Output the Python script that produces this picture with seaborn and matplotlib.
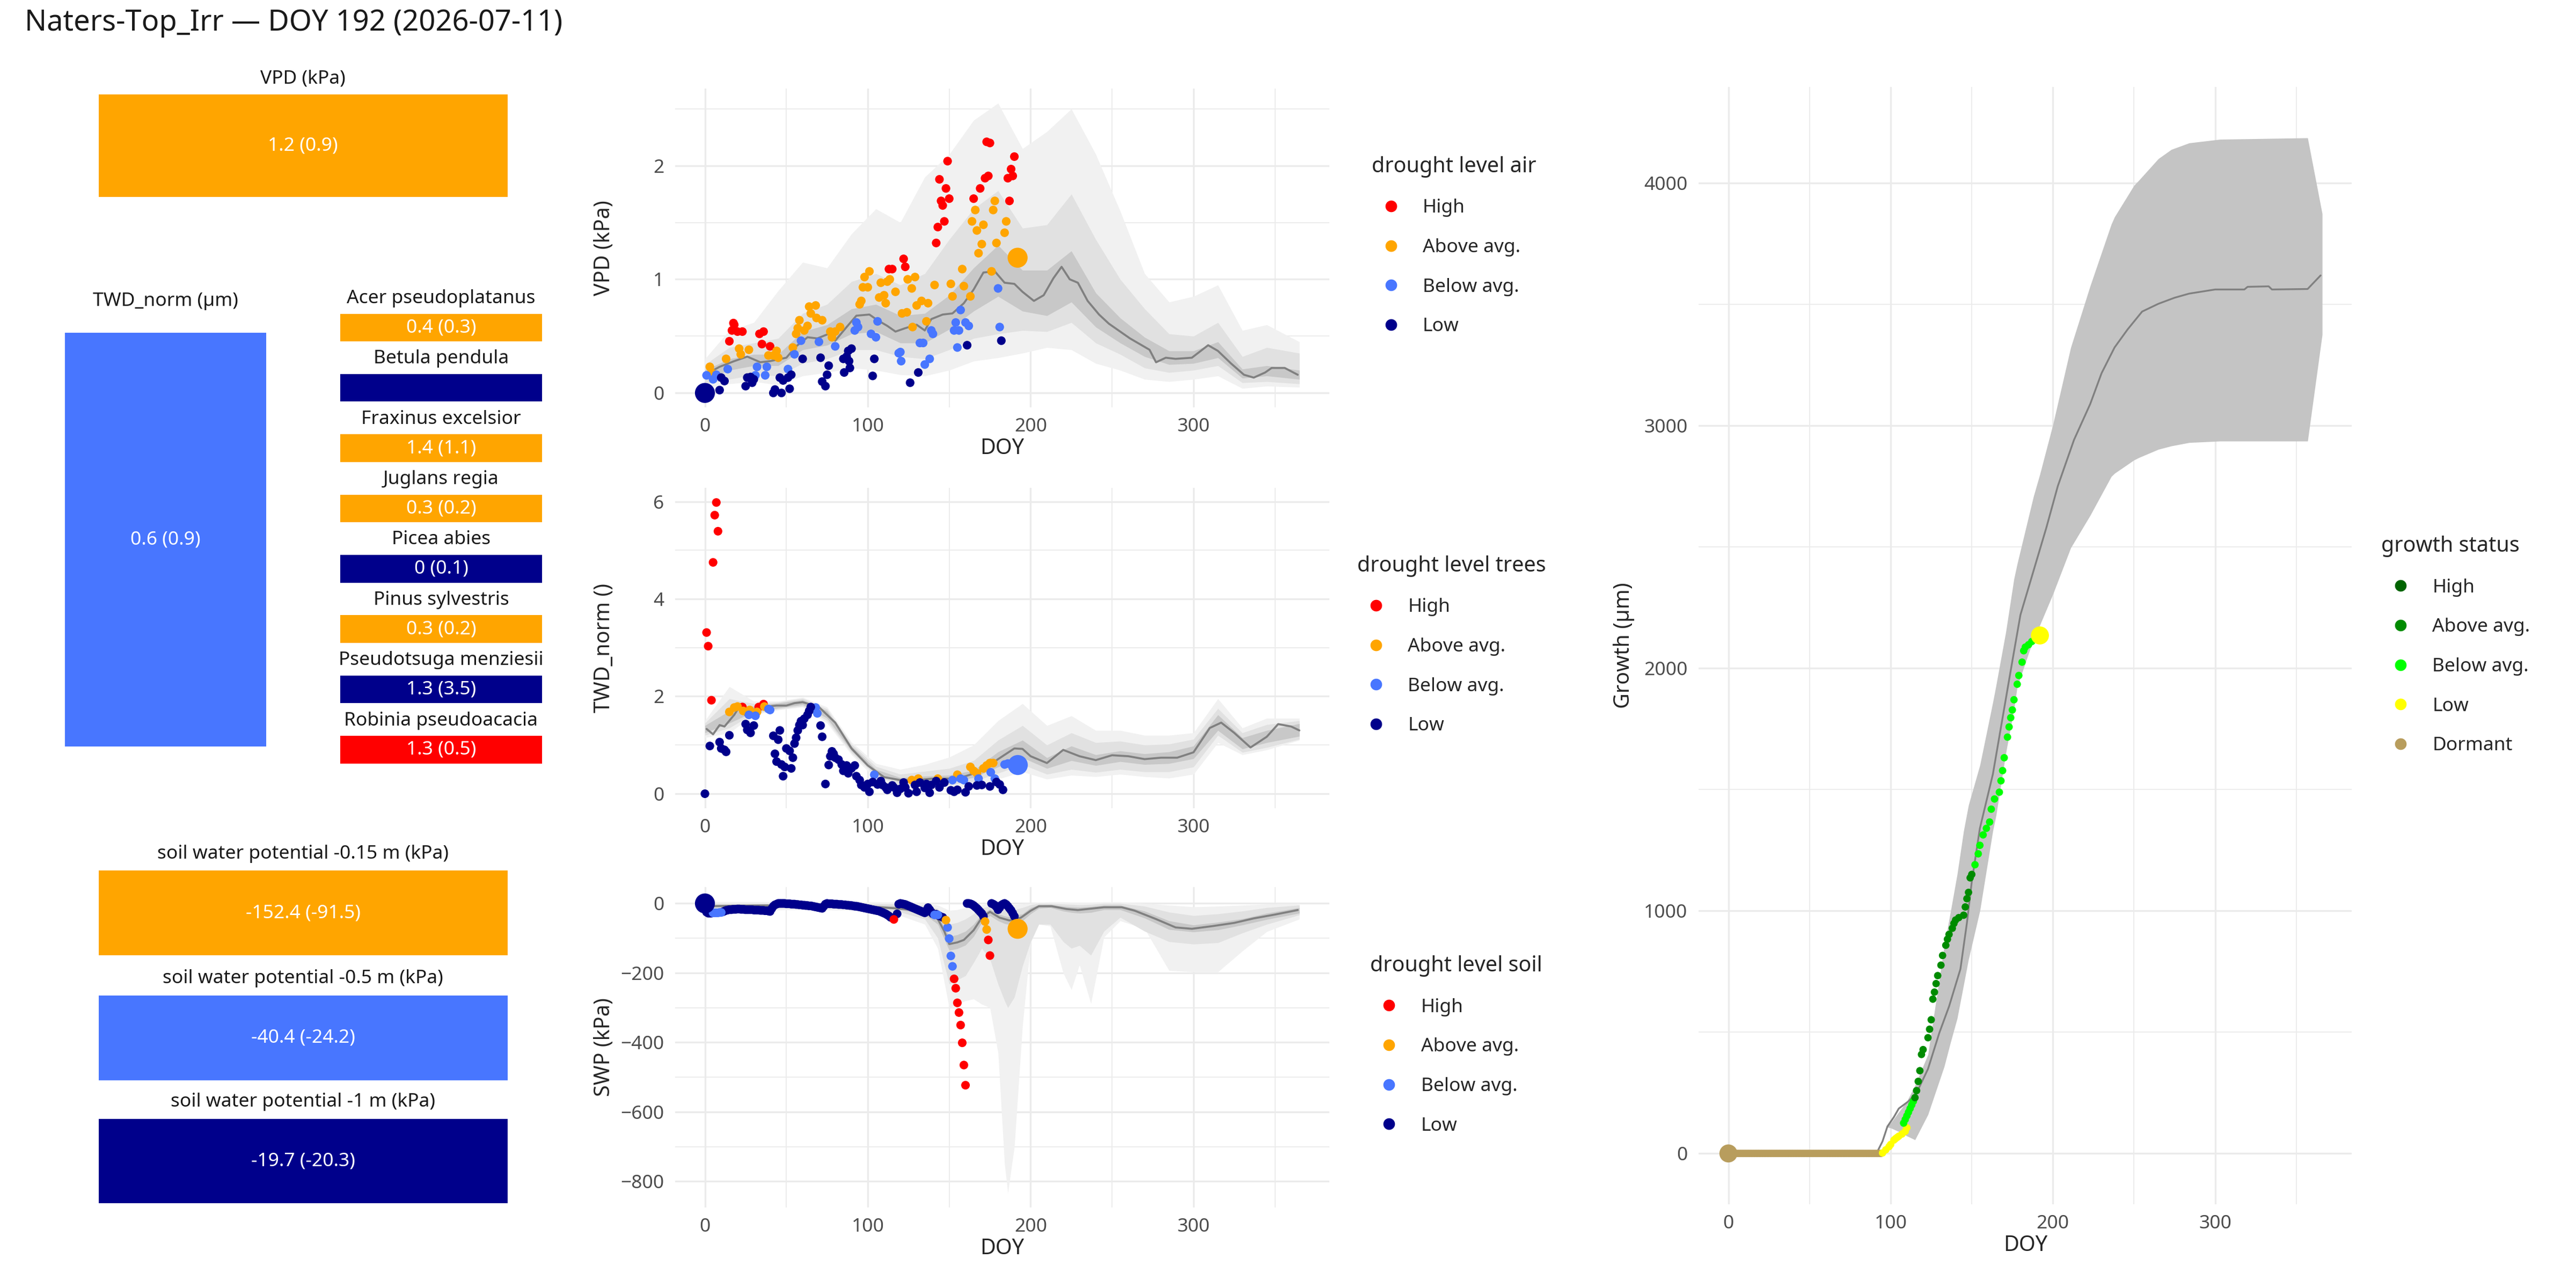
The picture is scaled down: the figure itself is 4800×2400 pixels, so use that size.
import matplotlib
matplotlib.use('Agg')
import numpy as np
import pandas as pd
import matplotlib.pyplot as plt
import seaborn as sns
from matplotlib.ticker import MultipleLocator

sns.set_theme(style='white')
plt.rcParams['font.family'] = ['Noto Sans', 'DejaVu Sans']

# ---- colours ----
LEVELS = ['High', 'Above avg.', 'Below avg.', 'Low']
LEVEL_COLORS = {'High': '#FF0000', 'Above avg.': '#FFA500',
                'Below avg.': '#4876FF', 'Low': '#00008B'}
GROWTH_LEVELS = ['High', 'Above avg.', 'Below avg.', 'Low', 'Dormant']
GROWTH_COLORS = {'High': '#006400', 'Above avg.': '#008B00', 'Below avg.': '#00FF00',
                 'Low': '#FFFF00', 'Dormant': '#B89D5D'}
BAND_COLORS = ['#F1F1F1', '#E1E1E1', '#C8C8C8']
LINE_GREY = '#808080'

TITLE = 'Naters-Top_Irr \u2014 DOY 192 (2026-07-11)'

# ---- left tiles ----
VPD_NOW, VPD_REF, VPD_LEVEL = 1.2, 0.9, 'Above avg.'
TWD_NOW, TWD_REF, TWD_LEVEL = 0.6, 0.9, 'Below avg.'
SPECIES = ['Acer pseudoplatanus', 'Betula pendula', 'Fraxinus excelsior', 'Juglans regia',
           'Picea abies', 'Pinus sylvestris', 'Pseudotsuga menziesii', 'Robinia pseudoacacia']
SPECIES_NOW = [0.4, None, 1.4, 0.3, 0, 0.3, 1.3, 1.3]
SPECIES_REF = [0.3, None, 1.1, 0.2, 0.1, 0.2, 3.5, 0.5]
SPECIES_LEVEL = ['Above avg.', 'Low', 'Above avg.', 'Above avg.', 'Low', 'Above avg.', 'Low', 'High']
SOIL_DEPTH = ['-0.15', '-0.5', '-1']
SOIL_NOW = [-152.4, -40.4, -19.7]
SOIL_REF = [-91.5, -24.2, -20.3]
SOIL_LEVEL = ['Above avg.', 'Below avg.', 'Low']

# ---- VPD panel ----
BAND_DOY = [0, 15, 30, 45, 60, 75, 90, 105, 120, 135, 150, 165, 180, 195, 210, 225, 240,
            255, 270, 285, 300, 315, 330, 345, 365]
VPD_OUT_LO = [0.04, 0.08, 0.10, 0.07, 0.15, 0.18, 0.22, 0.20, 0.16, 0.15, 0.20, 0.28, 0.31,
              0.35, 0.40, 0.38, 0.26, 0.20, 0.12, 0.10, 0.12, 0.15, 0.04, 0.06, 0.05]
VPD_OUT_HI = [0.30, 0.55, 0.62, 0.90, 1.15, 1.10, 1.40, 1.62, 1.50, 1.90, 2.10, 2.40, 2.55,
              2.15, 2.30, 2.50, 2.10, 1.60, 1.05, 0.80, 0.85, 0.95, 0.55, 0.60, 0.45]
VPD_MID_LO = [0.08, 0.12, 0.16, 0.15, 0.26, 0.30, 0.38, 0.38, 0.32, 0.30, 0.38, 0.48, 0.52,
              0.55, 0.54, 0.62, 0.44, 0.34, 0.22, 0.18, 0.20, 0.24, 0.09, 0.10, 0.08]
VPD_MID_HI = [0.25, 0.40, 0.44, 0.48, 0.70, 0.78, 0.98, 1.05, 0.95, 1.05, 1.35, 1.62, 1.78,
              1.45, 1.48, 1.75, 1.35, 1.00, 0.74, 0.52, 0.50, 0.62, 0.32, 0.40, 0.35]
VPD_IN_LO = [0.12, 0.20, 0.24, 0.24, 0.38, 0.42, 0.52, 0.54, 0.44, 0.44, 0.56, 0.72, 0.85,
             0.72, 0.68, 0.80, 0.58, 0.44, 0.32, 0.25, 0.26, 0.31, 0.13, 0.15, 0.12]
VPD_IN_HI = [0.20, 0.30, 0.34, 0.34, 0.54, 0.60, 0.74, 0.78, 0.68, 0.70, 0.86, 1.10, 1.30,
             1.08, 1.08, 1.25, 0.88, 0.66, 0.49, 0.37, 0.37, 0.45, 0.21, 0.24, 0.20]
VPD_MED_DOY = [0, 9, 18, 26, 34, 40, 50, 56, 63, 69, 76, 80, 87, 93, 101, 106, 112, 117, 123,
               130, 135, 139, 146, 152, 159, 165, 171, 178, 184, 190, 195, 202, 208, 214, 219,
               224, 229, 235, 242, 248, 254, 261, 267, 273, 277, 283, 289, 299, 309, 315, 323,
               331, 337, 344, 348, 356, 364]
VPD_MED = [0.16, 0.23, 0.28, 0.32, 0.27, 0.28, 0.31, 0.41, 0.49, 0.48, 0.52, 0.46, 0.58, 0.68,
           0.69, 0.64, 0.59, 0.54, 0.57, 0.60, 0.55, 0.65, 0.69, 0.70, 0.79, 0.91, 1.06, 1.07,
           0.97, 0.96, 0.89, 0.81, 0.86, 1.01, 1.11, 1.00, 0.97, 0.81, 0.69, 0.61, 0.55, 0.48,
           0.43, 0.38, 0.27, 0.31, 0.30, 0.31, 0.42, 0.37, 0.26, 0.16, 0.135, 0.18, 0.22, 0.22,
           0.16]
VPD_HIGH = [(15, 0.455), (16.6, 0.55), (17.5, 0.615), (18, 0.60), (20, 0.54), (23, 0.54),
            (33.5, 0.52), (35, 0.43), (36, 0.54), (40, 0.41), (113, 1.09), (115, 1.09),
            (122, 1.18), (123, 1.11), (142, 1.32), (143, 1.46), (144, 1.88), (145, 1.69),
            (146, 1.65), (147, 1.51), (148, 1.80), (149, 2.04), (150, 1.71), (165, 1.71),
            (169, 1.80), (172, 1.89), (173, 2.21), (174, 1.91), (175, 2.20), (186, 1.89),
            (187, 1.69), (188, 1.97), (189, 1.91), (190, 2.08)]
VPD_ABOVE = [(3, 0.23), (4, 0.18), (13, 0.30), (21, 0.39), (22, 0.34), (27, 0.38), (39, 0.33),
             (42, 0.33), (44, 0.37), (45, 0.31), (54, 0.40), (56, 0.52), (57, 0.57), (58, 0.64),
             (61, 0.55), (63, 0.59), (64, 0.76), (65, 0.70), (68, 0.77), (68.5, 0.66), (72, 0.64),
             (77, 0.54), (78, 0.49), (80, 0.54), (83, 0.58), (95, 0.78), (96, 0.81), (97, 0.93),
             (98, 1.02), (100, 0.93), (101, 1.07), (107, 0.84), (108, 0.97), (110, 0.86),
             (111, 0.79), (112, 0.98), (113.5, 1.00), (117, 0.89), (121, 0.70), (124, 0.71),
             (124.5, 1.00), (127, 0.92), (127.5, 0.58), (129, 1.02), (130, 0.77), (133, 0.81),
             (136, 0.63), (137, 0.79), (141, 0.95), (151, 0.96), (152, 0.85), (158, 1.09),
             (159, 0.94), (163, 0.85), (164, 1.51), (166, 1.61), (167, 1.43), (168, 1.23),
             (170, 1.31), (171, 1.48), (176, 1.07), (177, 1.61), (178, 1.69), (179, 1.32),
             (184, 1.41), (185, 1.51)]
VPD_BELOW = [(1, 0.155), (5, 0.12), (7, 0.16), (14, 0.21), (31, 0.155), (32, 0.23), (37, 0.155),
             (38, 0.23), (51, 0.21), (55, 0.34), (59, 0.46), (70, 0.45), (80, 0.41), (92, 0.55),
             (93, 0.62), (94, 0.58), (102, 0.52), (105, 0.49), (106, 0.63), (119, 0.35),
             (120, 0.36), (120.5, 0.28), (132, 0.44), (134, 0.44), (135, 0.25), (138, 0.30),
             (139, 0.55), (140, 0.52), (153, 0.55), (154, 0.62), (155, 0.40), (156, 0.55),
             (157, 0.73), (160, 0.62), (162, 0.59), (180, 0.92), (181, 0.58)]
VPD_LOW = [(9, 0.025), (10, 0.135), (12, 0.105), (25, 0.06), (26, 0.135), (28, 0.14), (29, 0.09),
           (30, 0.12), (42, 0.0), (43, 0.03), (46, 0.135), (47, 0.0), (48, 0.11), (51, 0.135),
           (52, 0.037), (53, 0.16), (60, 0.30), (71, 0.31), (72, 0.10), (74, 0.06), (75, 0.16),
           (76, 0.24), (85, 0.30), (85.5, 0.18), (87, 0.32), (88, 0.37), (88.5, 0.28), (89, 0.22),
           (90, 0.39), (103, 0.15), (104, 0.30), (126, 0.09), (131, 0.18), (161, 0.42), (182, 0.46)]
VPD_BIG = [(0, 0.0, 'Low'), (192, 1.19, 'Above avg.')]

# ---- TWD panel ----
TWD_OUT_LO = [1.15, 1.25, 1.62, 1.72, 1.78, 1.45, 0.80, 0.30, 0.12, 0.10, 0.10, 0.15, 0.30,
              0.45, 0.30, 0.38, 0.35, 0.40, 0.35, 0.32, 0.40, 1.05, 0.80, 0.90, 1.10]
TWD_OUT_HI = [1.50, 2.20, 1.90, 1.90, 1.98, 1.78, 1.06, 0.62, 0.50, 0.60, 0.75, 1.00, 1.50,
              1.85, 1.40, 1.60, 1.30, 1.30, 1.20, 1.20, 1.25, 1.95, 1.35, 1.55, 1.55]
TWD_MID_LO = [1.20, 1.35, 1.65, 1.74, 1.80, 1.50, 0.84, 0.36, 0.18, 0.18, 0.18, 0.25, 0.42,
              0.60, 0.40, 0.50, 0.44, 0.50, 0.45, 0.45, 0.55, 1.20, 0.85, 0.95, 1.12]
TWD_MID_HI = [1.45, 1.95, 1.85, 1.88, 1.96, 1.74, 1.02, 0.56, 0.40, 0.46, 0.52, 0.68, 1.10,
              1.40, 1.00, 1.25, 1.05, 1.08, 1.00, 1.02, 1.12, 1.75, 1.25, 1.42, 1.50]
TWD_IN_LO = [1.25, 1.45, 1.68, 1.76, 1.83, 1.55, 0.88, 0.40, 0.24, 0.25, 0.25, 0.33, 0.55,
             0.74, 0.52, 0.68, 0.58, 0.66, 0.60, 0.62, 0.72, 1.30, 0.92, 1.05, 1.18]
TWD_IN_HI = [1.40, 1.70, 1.80, 1.86, 1.93, 1.70, 0.98, 0.50, 0.33, 0.36, 0.38, 0.48, 0.86,
             1.10, 0.74, 0.98, 0.80, 0.88, 0.82, 0.86, 0.98, 1.62, 1.15, 1.30, 1.44]
TWD_MED_DOY = [1, 5, 9, 12, 18, 21, 25, 28, 34, 44, 50, 55, 60, 70, 80, 90, 100, 110, 120, 130,
               140, 150, 160, 170, 180, 190, 195, 200, 210, 220, 230, 240, 250, 260, 270, 280,
               290, 300, 310, 317, 325, 335, 345, 352, 360, 365]
TWD_MED = [1.33, 1.22, 1.41, 1.38, 1.62, 1.78, 1.60, 1.70, 1.78, 1.81, 1.81, 1.86, 1.88, 1.78,
           1.46, 0.93, 0.58, 0.34, 0.28, 0.28, 0.31, 0.31, 0.36, 0.47, 0.71, 0.93, 0.92, 0.77,
           0.63, 0.90, 0.77, 0.69, 0.79, 0.77, 0.71, 0.74, 0.74, 0.85, 1.35, 1.46, 1.25, 0.95,
           1.17, 1.43, 1.38, 1.30]
TWD_HIGH = [(1, 3.31), (2, 3.03), (4, 1.92), (5, 4.75), (6, 5.72), (7, 5.98), (8, 5.39),
            (23, 1.78), (33, 1.78), (36, 1.84)]
TWD_ABOVE = [(15, 1.68), (18, 1.77), (20, 1.79), (23.5, 1.70), (27.5, 1.72), (32, 1.68),
             (36.5, 1.79), (127, 0.28), (131, 0.31), (143, 0.31), (155, 0.39), (163, 0.55),
             (165, 0.47), (167, 0.42), (171, 0.52), (173, 0.58), (175, 0.63), (177, 0.63)]
TWD_BELOW = [(27, 1.62), (31, 1.60), (39, 1.74), (40, 1.72), (68, 1.77), (69, 1.65), (104, 0.39),
             (152, 0.28), (157, 0.31), (159, 0.28), (168, 0.31), (175.5, 0.44), (178, 0.31),
             (184, 0.60), (186, 0.62)]
TWD_LOW = [(0, 0.0), (3, 0.98), (9, 1.06), (10, 0.93), (12, 0.90), (13, 0.86), (15, 1.20),
           (25, 1.43), (26, 1.31), (28, 1.25), (30, 1.40), (42, 1.19), (43, 0.82), (44, 0.66),
           (45, 1.11), (46, 1.30), (47, 0.60), (48, 0.36), (49, 0.55), (50, 0.93), (52, 0.88),
           (53, 0.52), (54, 0.74), (55, 1.03), (56, 1.15), (57, 1.30), (58, 1.41), (59, 1.49),
           (60, 1.41), (61, 1.54), (63, 1.62), (64, 1.70), (65, 1.78), (71, 1.40), (72, 1.17),
           (74, 0.20), (76, 0.59), (77, 0.77), (78, 0.87), (79, 0.82), (80, 0.74), (82, 0.70),
           (84, 0.60), (85, 0.47), (87, 0.58), (88, 0.42), (90, 0.52), (92, 0.58), (93, 0.36),
           (95, 0.28), (96, 0.18), (98, 0.13), (100, 0.20), (101, 0.04), (103, 0.24), (106, 0.19),
           (108, 0.26), (109, 0.18), (111, 0.13), (112, 0.08), (115, 0.17), (116, 0.13),
           (118, 0.02), (120, 0.10), (122, 0.23), (123, 0.13), (125, 0.01), (129, 0.18),
           (130, 0.04), (132, 0.23), (135, 0.12), (136, 0.20), (138, 0.02), (139, 0.18),
           (142, 0.26), (144, 0.13), (147, 0.23), (151, 0.07), (153, 0.04), (155, 0.08),
           (160, 0.03), (162, 0.15), (167, 0.17), (170, 0.18), (175, 0.15), (179, 0.24),
           (181, 0.19), (183, 0.08)]
TWD_BIG = [(192, 0.6, 'Below avg.')]

# ---- SWP panel ----
SWP_BAND_DOY = [0, 30, 60, 90, 120, 135, 143, 150, 155, 160, 165, 170, 175, 180, 184, 186, 190,
                195, 200, 205, 212, 220, 225, 230, 237, 245, 255, 270, 285, 300, 315, 330, 345, 365]
SWP_OUT_LO = [-25, -20, -18, -20, -35, -60, -130, -300, -290, -280, -275, -290, -300, -430, -750,
              -833, -700, -352, -113, -60, -65, -200, -248, -177, -288, -97, -50, -73, -193, -197,
              -197, -137, -81, -45]
SWP_OUT_HI = [5, 5, 5, 5, 3, 0, -5, -20, -18, -12, -8, -4, 0, -4, -5, -6, -4, -2, 0, 3, 4, 4, 3,
              3, 3, 4, 4, 0, -5, -10, -8, -5, -2, 0]
SWP_MID_LO = [-18, -14, -12, -14, -25, -45, -100, -232, -220, -208, -170, -129, -160, -232, -280,
              -300, -270, -180, -110, -60, -60, -110, -129, -121, -149, -80, -40, -80, -110, -117,
              -113, -85, -60, -33]
SWP_MID_HI = [0, 0, 0, 0, -2, -6, -15, -60, -55, -45, -30, -15, -6, -15, -18, -20, -18, -12, -4,
              0, 0, -2, -3, -4, -3, 0, 0, -8, -25, -35, -30, -22, -12, -5]
SWP_IN_LO = [-12, -10, -9, -10, -18, -32, -60, -135, -130, -120, -95, -55, -35, -50, -58, -60,
             -55, -50, -30, -14, -12, -22, -26, -28, -26, -18, -18, -42, -75, -82, -76, -62, -46,
             -28]
SWP_IN_HI = [-4, -3, -2, -3, -8, -16, -30, -95, -90, -80, -60, -30, -16, -30, -36, -38, -35, -30,
             -12, -4, -3, -8, -10, -11, -9, -5, -5, -22, -50, -62, -54, -44, -28, -12]
SWP_MED_DOY = [0, 30, 60, 90, 104, 117, 130, 136, 143, 147, 150, 155, 159, 165, 170, 175, 181,
               187, 194, 200, 205, 213, 222, 229, 235, 245, 256, 264, 277, 289, 299, 312, 325,
               337, 350, 364]
SWP_MED = [-8, -6, -5, -6, -10, -14, -20, -25, -45, -80, -117, -112, -105, -77, -41, -24, -41,
           -49, -41, -21, -8, -8, -16, -19, -16, -11, -11, -21, -45, -69, -73, -65, -56, -43,
           -32, -19]
SWP_LOW_DOY = ([1, 2, 3, 4] + list(range(11, 115)) + [118] + list(range(119, 141))
               + [142, 144, 146] + list(range(161, 172)) + list(range(176, 191)))
SWP_LOW_VAL = [-25, -28, -28, -28,
               -24, -22, -20, -19, -18, -18, -17, -17, -17, -16,
               -16, -17, -17, -17, -18, -18, -18, -18, -18, -19,
               -19, -19, -19, -20, -20, -20, -21, -21, -22, -23,
               -15, -8, -4, -2, 0, 0, 0, 0, 0, -1,
               -1, -1, -2, -2, -2, -3, -3, -4, -4, -5,
               -5, -6, -6, -7, -7, -8, -9, -10, -11, -12,
               -13, -14, -8, -2, 0, -1, -1, -1, -2, -2,
               -2, -3, -3, -3, -4, -4, -5, -5, -6, -6,
               -7, -8, -8, -9, -10, -11, -12, -13, -14, -15,
               -16, -17, -18, -19, -20, -21, -22, -24, -26, -28,
               -30, -33, -36, -40,
               -30,
               -2, 0, -1, -2, -3, -5, -7, -9, -11, -13,
               -15, -17, -19, -21, -23, -25, -27, -20, -12, -18, -25, -30,
               -31, -36, -40,
               0, 0, -1, -3, -6, -10, -14, -19, -24, -29, -37,
               0, -2, -5, -10, -18, -12, -5, -2, 0, -3, -8, -14, -20, -28, -37]
SWP_BELOW = [(5, -27), (6, -27), (7, -27), (8, -27), (9, -26), (10, -26), (141, -33), (143, -33),
             (149, -69), (150, -101), (151, -151), (152, -181)]
SWP_ABOVE = [(148, -48), (172, -52), (173, -75)]
SWP_HIGH = [(116, -46), (153, -217), (154, -244), (155, -286), (156, -314), (157, -350),
            (158, -401), (159, -465), (160, -523), (174, -105), (175, -150)]
SWP_BIG = [(0, 0, 'Low'), (192, -73, 'Above avg.')]

# ---- growth panel ----
GROWTH_BAND_DOY = [98, 100, 105, 110, 115, 123, 133, 137, 141, 145, 148, 155, 163, 165, 171, 176,
                   178, 188, 192, 200, 211, 223, 236, 238, 250, 253, 265, 273, 284, 303, 357, 366]
GROWTH_HI = [115, 125, 170, 215, 280, 408, 853, 1000, 1150, 1330, 1436, 1600, 1860, 1930, 2150,
             2368, 2430, 2707, 2800, 3004, 3322, 3576, 3830, 3860, 3990, 4011, 4100, 4138, 4165,
             4180, 4186, 3873]
GROWTH_LO = [108, 105, 90, 72, 56, 160, 358, 460, 556, 695, 800, 1000, 1330, 1394, 1650, 1830,
             1923, 2120, 2178, 2305, 2496, 2630, 2790, 2803, 2858, 2868, 2902, 2916, 2930, 2936,
             2936, 3375]
GROWTH_MED_DOY = [0, 88, 92, 95, 98, 102, 105, 111, 116, 123, 130, 136, 143, 147, 150, 155, 163,
                  169, 175, 180, 188, 196, 203, 213, 223, 230, 238, 246, 255, 265, 275, 284, 300,
                  318, 320, 333, 335, 357, 365]
GROWTH_MED = [0, 0, 10, 50, 111, 150, 185, 215, 250, 348, 497, 606, 760, 950, 1120, 1340, 1563,
              1796, 2029, 2220, 2400, 2580, 2750, 2941, 3089, 3216, 3322, 3396, 3470, 3502, 3527,
              3544, 3561, 3561, 3572, 3574, 3561, 3563, 3619]
GROWTH_DORMANT_DOY = list(range(1, 95))
GROWTH_LOW = [(95, 2), (97, 15), (99, 28), (100, 37), (102, 55), (103, 61), (104, 66), (105, 71),
              (107, 80), (109, 91), (110, 106)]
GROWTH_BELOW = [(108, 125), (109, 140), (110, 155), (111, 170), (112, 185), (113, 200),
                (114, 215), (152, 1190), (154, 1235), (155, 1270), (157, 1313), (159, 1340),
                (161, 1366), (162, 1419), (164, 1461), (167, 1489), (168, 1536), (169, 1578),
                (170, 1631), (172, 1716), (173, 1758), (174, 1796), (175, 1828), (176, 1870),
                (178, 1934), (179, 1970), (181, 2025), (182, 2072), (183, 2087), (185, 2097),
                (187, 2110)]
GROWTH_ABOVE = [(115, 230), (116, 259), (117, 297), (118, 341), (119, 408), (120, 428),
                (123, 477), (124, 512), (125, 551), (126, 636), (127, 665), (128, 700),
                (129, 733), (131, 776), (132, 816), (134, 858), (135, 883), (136, 903),
                (138, 928), (139, 948), (140, 962), (142, 972), (145, 982), (146, 1016),
                (147, 1050), (148, 1076), (149, 1136), (150, 1150)]
GROWTH_BIG = [(0, 0, 'Dormant'), (192, 2135, 'Low')]

# layout helpers (reference pixel grid 1568 x 784)
W, H = 1568, 784


def frect(x0, y0, x1, y1):
    return [x0 / W, 1 - y1 / H, (x1 - x0) / W, (y1 - y0) / H]


def points_frame(groups):
    rows = []
    for level, pts in groups:
        for d, v in pts:
            rows.append((d, v, level))
    return pd.DataFrame(rows, columns=['doy', 'value', 'level'])


def big_frame(pts):
    return pd.DataFrame(pts, columns=['doy', 'value', 'level'])


def fmt(v):
    return f'{v:g}'


def draw_tile(fig, rect, color, label, title, pad):
    ax = fig.add_axes(frect(*rect))
    ax.bar([0], [1], width=1, color=color, linewidth=0)
    ax.set_xlim(-0.5, 0.5)
    ax.set_ylim(0, 1)
    ax.axis('off')
    ax.text(0, 0.5, label, color='white', ha='center', va='center', fontsize=8.5)
    ax.set_title(title, fontsize=8.5, pad=pad, color='#1A1A1A')


def style_axes(ax, ymajor, yminor):
    ax.xaxis.set_major_locator(MultipleLocator(100))
    ax.xaxis.set_minor_locator(MultipleLocator(50))
    ax.yaxis.set_major_locator(MultipleLocator(ymajor))
    ax.yaxis.set_minor_locator(MultipleLocator(yminor))
    ax.set_axisbelow(True)
    ax.grid(which='major', color='#EBEBEB', lw=0.8)
    ax.grid(which='minor', color='#EBEBEB', lw=0.45)
    ax.tick_params(which='both', length=0, labelsize=8.5, labelcolor='#4D4D4D')
    ax.tick_params(axis='x', pad=4.5)
    ax.tick_params(axis='y', pad=5)
    for s in ax.spines.values():
        s.set_visible(False)
    ax.margins(0.05)


def place_legend(ax, fig, anchor, title, marker_size=5.2):
    sns.move_legend(ax, 'upper left', bbox_to_anchor=anchor, bbox_transform=fig.transFigure,
                    frameon=False, title=title, fontsize=8.5, title_fontsize=9.5,
                    alignment='left', handlelength=2, handletextpad=0.68,
                    labelspacing=1.12, borderpad=0, borderaxespad=0)
    for h in ax.get_legend().legend_handles:
        if hasattr(h, 'set_markersize'):
            h.set_markersize(marker_size)


def drought_panel(fig, rect, bands, med_doy, med, pts, big, ylabel, ymajor, yminor,
                  legend_title, legend_anchor):
    ax = fig.add_axes(frect(*rect))
    band_doy, o_lo, o_hi, m_lo, m_hi, i_lo, i_hi = bands
    ax.fill_between(band_doy, o_lo, o_hi, color=BAND_COLORS[0], lw=0, zorder=1)
    ax.fill_between(band_doy, m_lo, m_hi, color=BAND_COLORS[1], lw=0, zorder=1)
    ax.fill_between(band_doy, i_lo, i_hi, color=BAND_COLORS[2], lw=0, zorder=1)
    sns.lineplot(x=med_doy, y=med, ax=ax, color=LINE_GREY, linewidth=0.9, zorder=2)
    sns.scatterplot(data=pts, x='doy', y='value', hue='level', hue_order=LEVELS,
                    palette=LEVEL_COLORS, s=15, linewidth=0, ax=ax, zorder=3)
    sns.scatterplot(data=big, x='doy', y='value', hue='level', hue_order=LEVELS,
                    palette=LEVEL_COLORS, s=80, linewidth=0, legend=False, ax=ax, zorder=4)
    style_axes(ax, ymajor, yminor)
    ax.set_xlabel('DOY', fontsize=9.5, labelpad=1)
    ax.set_ylabel(ylabel, fontsize=9.5)
    ax.yaxis.set_label_coords(-0.092, 0.5)
    place_legend(ax, fig, legend_anchor, legend_title)
    return ax


fig = plt.figure(figsize=(16, 8), dpi=300)
fig.text(15 / W, 1 - 14 / H, TITLE, fontsize=13, ha='left', va='center', color='#1A1A1A')

# left column tiles
draw_tile(fig, (60, 57.5, 309, 120), LEVEL_COLORS[VPD_LEVEL],
          f'{fmt(VPD_NOW)} ({fmt(VPD_REF)})', 'VPD (kPa)', 5)
draw_tile(fig, (39.4, 202.6, 162, 454.5), LEVEL_COLORS[TWD_LEVEL],
          f'{fmt(TWD_NOW)} ({fmt(TWD_REF)})', 'TWD_norm (\u00b5m)', 12)
for i, name in enumerate(SPECIES):
    top = 191 + i * 36.7
    now, ref = SPECIES_NOW[i], SPECIES_REF[i]
    label = '' if now is None else f'{fmt(now)} ({fmt(ref)})'
    draw_tile(fig, (207, top, 330, top + 16.8), LEVEL_COLORS[SPECIES_LEVEL[i]], label, name, 4.7)
for i, depth in enumerate(SOIL_DEPTH):
    top = [530, 606, 681][i]
    draw_tile(fig, (60, top, 309, top + 51.5), LEVEL_COLORS[SOIL_LEVEL[i]],
              f'{fmt(SOIL_NOW[i])} ({fmt(SOIL_REF[i])})',
              f'soil water potential {depth} m (kPa)', 5.5)

# middle column
vpd_pts = points_frame([('High', VPD_HIGH), ('Above avg.', VPD_ABOVE),
                        ('Below avg.', VPD_BELOW), ('Low', VPD_LOW)])
drought_panel(fig, (411, 54, 809, 248),
              (BAND_DOY, VPD_OUT_LO, VPD_OUT_HI, VPD_MID_LO, VPD_MID_HI, VPD_IN_LO, VPD_IN_HI),
              VPD_MED_DOY, VPD_MED, vpd_pts, big_frame(VPD_BIG), 'VPD (kPa)', 1, 0.5,
              'drought level air', (835 / W, 1 - 95 / H))

twd_pts = points_frame([('High', TWD_HIGH), ('Above avg.', TWD_ABOVE),
                        ('Below avg.', TWD_BELOW), ('Low', TWD_LOW)])
drought_panel(fig, (411, 297, 809, 492),
              (BAND_DOY, TWD_OUT_LO, TWD_OUT_HI, TWD_MID_LO, TWD_MID_HI, TWD_IN_LO, TWD_IN_HI),
              TWD_MED_DOY, TWD_MED, twd_pts, big_frame(TWD_BIG), 'TWD_norm ()', 2, 1,
              'drought level trees', (826 / W, 1 - 338 / H))

swp_low = list(zip(SWP_LOW_DOY, SWP_LOW_VAL))
swp_pts = points_frame([('Low', swp_low), ('Below avg.', SWP_BELOW),
                        ('Above avg.', SWP_ABOVE), ('High', SWP_HIGH)])
drought_panel(fig, (411, 540, 809, 735),
              (SWP_BAND_DOY, SWP_OUT_LO, SWP_OUT_HI, SWP_MID_LO, SWP_MID_HI, SWP_IN_LO, SWP_IN_HI),
              SWP_MED_DOY, SWP_MED, swp_pts, big_frame(SWP_BIG), 'SWP (kPa)', 200, 100,
              'drought level soil', (834 / W, 1 - 581.5 / H))

# right column: growth
ax = fig.add_axes(frect(1034, 53, 1431.6, 733))
ax.fill_between(GROWTH_BAND_DOY, GROWTH_LO, GROWTH_HI, color='#C4C4C4', lw=0, zorder=1)
sns.lineplot(x=GROWTH_MED_DOY, y=GROWTH_MED, ax=ax, color=LINE_GREY, linewidth=0.8, zorder=2)
dormant = [(d, 0) for d in GROWTH_DORMANT_DOY]
growth_pts = points_frame([('Dormant', dormant), ('Low', GROWTH_LOW),
                           ('Below avg.', GROWTH_BELOW), ('Above avg.', GROWTH_ABOVE)])
sns.scatterplot(data=growth_pts, x='doy', y='value', hue='level', hue_order=GROWTH_LEVELS,
                palette=GROWTH_COLORS, s=11, linewidth=0, ax=ax, zorder=3)
sns.scatterplot(data=big_frame(GROWTH_BIG), x='doy', y='value', hue='level',
                hue_order=GROWTH_LEVELS, palette=GROWTH_COLORS, s=65, linewidth=0,
                legend=False, ax=ax, zorder=4)
style_axes(ax, 1000, 500)
ax.set_xlabel('DOY', fontsize=9.5, labelpad=1)
ax.set_ylabel('Growth (\u00b5m)', fontsize=9.5)
ax.yaxis.set_label_coords(-0.098, 0.5)
place_legend(ax, fig, (1449.5 / W, 1 - 326 / H), 'growth status')

fig.savefig('out.png', dpi=300)
